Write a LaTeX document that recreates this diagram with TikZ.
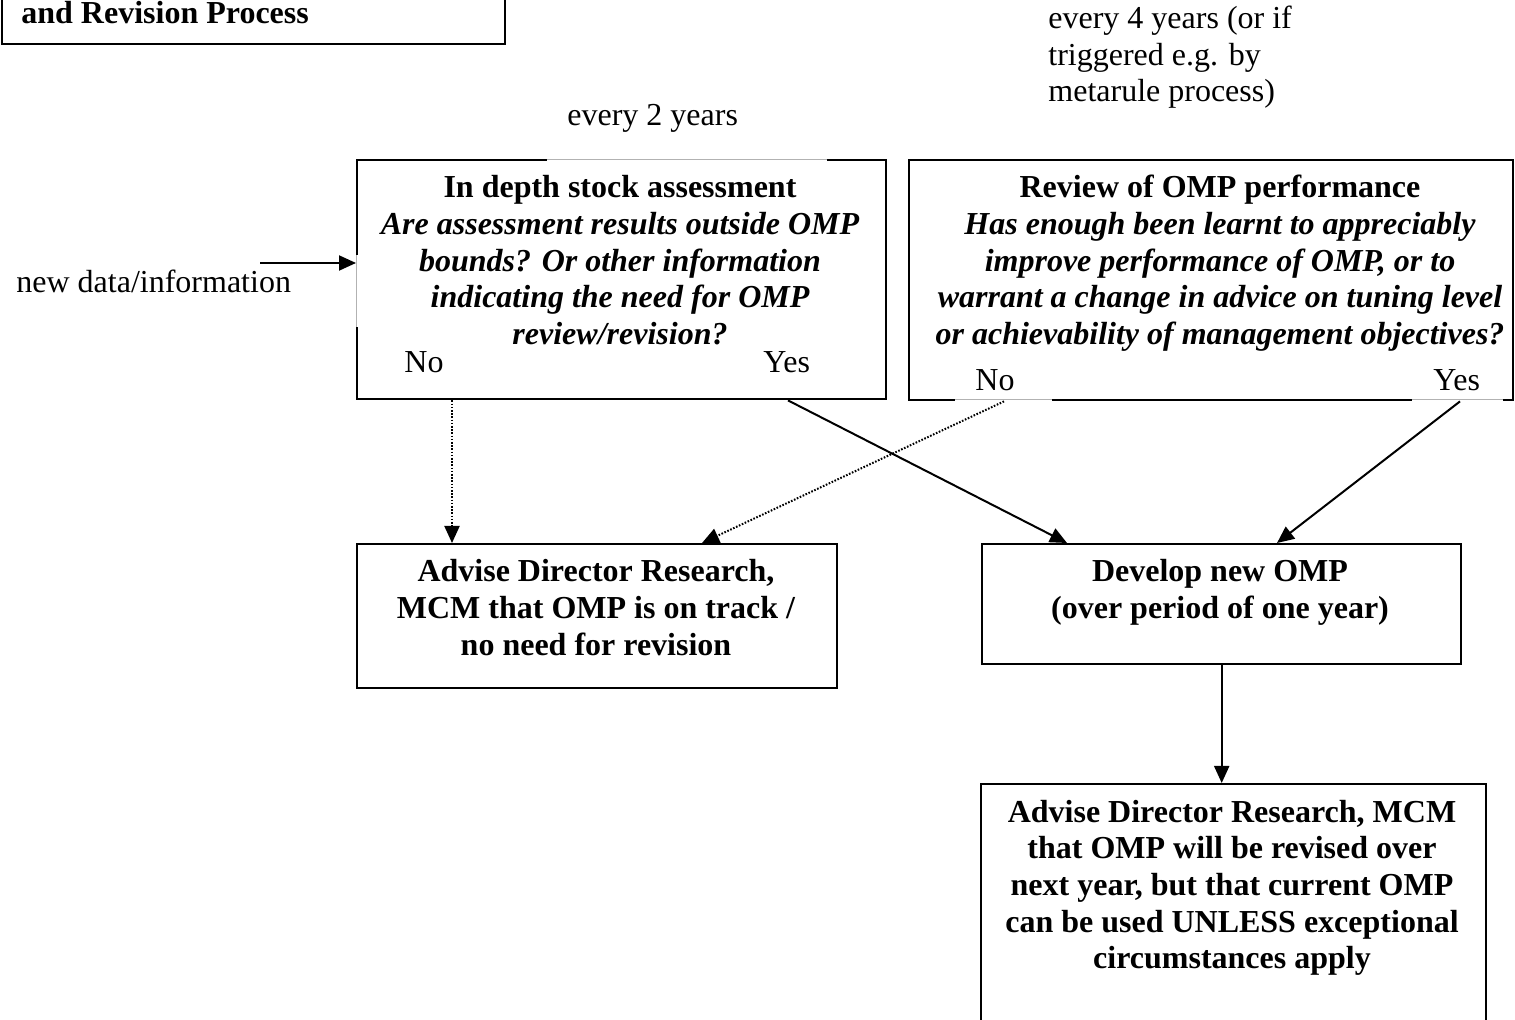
\documentclass[tikz,border=0pt]{standalone}
\usepackage{fontspec}
\setmainfont{Liberation Serif}
\usetikzlibrary{arrows.meta}
\begin{document}
\begin{tikzpicture}[x=0.5pt,y=-0.5pt,
  box/.style={draw, line width=1.2pt, rectangle, inner sep=0pt, anchor=north west},
  txt/.style={inner sep=0pt, font=\fontsize{16}{18.35}\selectfont, anchor=base},
  txtl/.style={txt, anchor=base west},
  bt/.style={txt, font=\fontsize{16}{18.35}\selectfont\bfseries},
  bit/.style={txt, font=\fontsize{16}{18.35}\selectfont\bfseries\itshape},
  conn/.style={line width=1pt, -{Triangle[length=8.5pt,width=7.5pt]}},
  dotconn/.style={conn, dash pattern=on 0.8pt off 0.8pt},
  gapline/.style={draw=black!30, line width=0.5pt}]
\useasboundingbox (0,0) rectangle (1515,1020);

% boxes
\node[box, minimum width=251.5pt, minimum height=36.5pt] (title) at (1,-30) {};
\node[box, minimum width=264.5pt, minimum height=119.5pt] (b1) at (356,159) {};
\node[box, minimum width=302pt, minimum height=120pt] (b2) at (908,159) {};
\node[box, minimum width=240pt, minimum height=72pt] (b3) at (356,543) {};
\node[box, minimum width=239.5pt, minimum height=60pt] (b4) at (981,543) {};
\node[box, minimum width=252.5pt, minimum height=131pt] (b5) at (980,783) {};

% gaps in borders (covered by text boxes)
\fill[white] (547,156) rectangle (827,162);
\draw[gapline] (547,159.5) -- (827,159.5);
\fill[white] (353,255) rectangle (359,327);
\draw[gapline] (356.5,255) -- (356.5,327);
\fill[white] (955,396) rectangle (1052,402);
\draw[gapline] (955,399.5) -- (1052,399.5);
\fill[white] (1412,396) rectangle (1503,402);
\draw[gapline] (1412,399.5) -- (1503,399.5);

% title
\node[bt, anchor=base west] (tt) at (21,24) {and Revision Process};

% free labels
\node[txtl] (e2) at (567,126) {every 2 years};
\node[txtl] (e4a) at (1048,29) {every 4 years (or if};
\node[txtl] (e4b) at (1048,66) {triggered e.g. by};
\node[txtl] (e4c) at (1048,102) {metarule process)};
\node[txtl] (nd) at (16,293) {new data/information};

% box 1 text
\node[bt] (b1h) at (620,198) {In depth stock assessment};
\foreach \t [count=\i] in {{Are assessment results outside OMP},{bounds? Or other information},{indicating the need for OMP},{review/revision?}}
  \node[bit] (b1l\i) at (620,{198+36.6*\i}) {\t};
\node[txtl] (b1no) at (404,373) {No};
\node[txtl] (b1yes) at (763,373) {Yes};

% box 2 text
\node[bt] (b2h) at (1220,198) {Review of OMP performance};
\foreach \t [count=\i] in {{Has enough been learnt to appreciably},{improve performance of OMP, or to},{warrant a change in advice on tuning level},{or achievability of management objectives?}}
  \node[bit] (b2l\i) at (1220,{198+36.6*\i}) {\t};
\node[txtl] (b2no) at (975,391) {No};
\node[txtl] (b2yes) at (1433,391) {Yes};

% box 3 text
\foreach \t [count=\i] in {{Advise Director Research,},{MCM that OMP is on track /},{no need for revision}}
  \node[bt] (b3l\i) at (596,{582+36.6*(\i-1)}) {\t};

% box 4 text
\foreach \t [count=\i] in {{Develop new OMP},{(over period of one year)}}
  \node[bt] (b4l\i) at (1220,{582+36.6*(\i-1)}) {\t};

% box 5 text
\foreach \t [count=\i] in {{Advise Director Research, MCM},{that OMP will be revised over},{next year, but that current OMP},{can be used UNLESS exceptional},{circumstances apply}}
  \node[bt] (b5l\i) at (1232,{822+36.7*(\i-1)}) {\t};

% connectors
\coordinate (ndstart) at (260,263);
\draw[conn] (ndstart) -- (ndstart -| b1.west);
\draw[dotconn] ([xshift=48pt]b1.south west) -- ([xshift=48pt]b3.north west);
\draw[conn] ([xshift=216pt]b1.south west) -- ([xshift=43pt]b4.north west);
\draw[dotconn] ([xshift=48pt]b2.south west) -- ([xshift=173pt]b3.north west);
\draw[conn] ([xshift=276pt]b2.south west) -- ([xshift=148pt]b4.north west);
\draw[conn] (b4.south) -- (b4.south |- b5.north);
\end{tikzpicture}
\end{document}
